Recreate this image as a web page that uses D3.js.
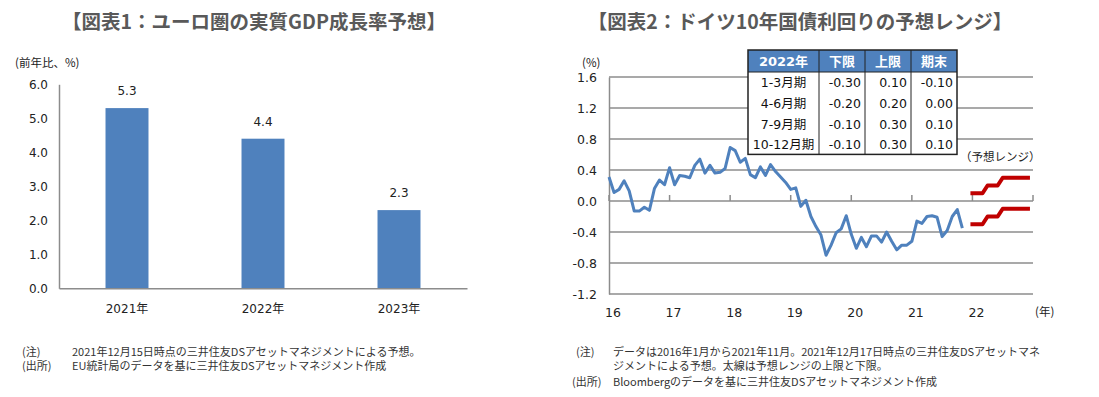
<!DOCTYPE html>
<html>
<head>
<meta charset="utf-8">
<script src="https://cdn.jsdelivr.net/npm/d3@7"></script>
<style>
  body { margin: 0; background: #fff; }
  text { font-family: "DejaVu Sans", "Noto Sans CJK JP", sans-serif; }
  .jp { font-family: "Noto Sans CJK JP", sans-serif; }
</style>
</head>
<body>
<script>
const width = 1099;
const height = 397;

// chart 1: euro area real GDP growth forecast
const gdpYears = ["2021年", "2022年", "2023年"];
const gdpGrowth = [5.3, 4.4, 2.3];
const gdpTicks = [0, 1, 2, 3, 4, 5, 6];

// chart 2: German 10y bund yield, monthly Jan 2016 - Nov 2021
const bundStart = 2016;
const bundYield = [
  0.31, 0.11, 0.15, 0.26, 0.13, -0.13, -0.13, -0.08, -0.12, 0.16, 0.27, 0.21,
  0.43, 0.21, 0.33, 0.32, 0.30, 0.46, 0.54, 0.36, 0.46, 0.36, 0.37, 0.42,
  0.69, 0.65, 0.50, 0.55, 0.34, 0.30, 0.44, 0.33, 0.47, 0.38, 0.31, 0.24,
  0.15, 0.17, -0.07, 0.01, -0.20, -0.33, -0.44, -0.70, -0.57, -0.41, -0.36, -0.19,
  -0.43, -0.61, -0.47, -0.59, -0.45, -0.45, -0.53, -0.40, -0.52, -0.63, -0.57, -0.57,
  -0.52, -0.26, -0.29, -0.20, -0.19, -0.21, -0.46, -0.38, -0.20, -0.11, -0.35
];
// forecast range, monthly for 2022
const rangeStart = 2022;
const rangeUpper = [0.1, 0.1, 0.1, 0.2, 0.2, 0.2, 0.3, 0.3, 0.3, 0.3, 0.3, 0.3];
const rangeLower = [-0.3, -0.3, -0.3, -0.2, -0.2, -0.2, -0.1, -0.1, -0.1, -0.1, -0.1, -0.1];
const bundYTicks = [-1.2, -0.8, -0.4, 0, 0.4, 0.8, 1.2, 1.6];
const bundXTicks = [2016, 2017, 2018, 2019, 2020, 2021, 2022, 2023];
const bundXLabels = ["16", "17", "18", "19", "20", "21", "22"];

// table
const tableHeader = ["2022年", "下限", "上限", "期末"];
const tablePeriods = ["1-3月期", "4-6月期", "7-9月期", "10-12月期"];
const tableLower = [-0.30, -0.20, -0.10, -0.10];
const tableUpper = [0.10, 0.20, 0.30, 0.30];
const tableEnd = [-0.10, 0.00, 0.10, 0.10];

const blue = "#4f81bd";
const red = "#c00000";
const axisGray = "#8c8c8c";
const titleGray = "#595959";

// plain hyphen for negatives, like the original
const locale = d3.formatLocale({decimal: ".", thousands: ",", grouping: [3], currency: ["", ""], minus: "-"});
const fmt1 = locale.format(".1f");
const fmt2 = locale.format(".2f");

const svg = d3.select("body")
    .append("svg")
    .attr("width", width)
    .attr("height", height);

// ---------- chart 1 ----------
const left = svg.append("g");

left.append("text")
    .attr("class", "jp")
    .attr("x", 254)
    .attr("y", 29)
    .attr("text-anchor", "middle")
    .attr("font-size", 19.5)
    .attr("font-weight", "bold")
    .attr("fill", titleGray)
    .text("【図表1：ユーロ圏の実質GDP成長率予想】");

left.append("text")
    .attr("class", "jp")
    .attr("x", 15)
    .attr("y", 67)
    .attr("font-size", 11.5)
    .attr("fill", "#222")
    .text("(前年比、%)");

const gx = d3.scaleBand()
    .domain(gdpYears)
    .range([59, 467]);

const gy = d3.scaleLinear()
    .domain([0, 6])
    .range([288.3, 84.3]);

left.append("g")
    .attr("transform", "translate(59,0)")
    .call(d3.axisLeft(gy).tickValues(gdpTicks).tickFormat(fmt1).tickSize(0).tickPadding(11))
    .call(g => g.select(".domain").attr("stroke", axisGray).attr("stroke-width", 1.5))
    .call(g => g.selectAll("text").attr("font-size", 12).attr("fill", "#222"));

const barW = gx.bandwidth() * 0.316;

left.selectAll(".bar")
    .data(gdpGrowth)
    .enter()
    .append("rect")
    .attr("class", "bar")
    .attr("x", (d, i) => gx(gdpYears[i]) + gx.bandwidth() / 2 - barW / 2)
    .attr("y", d => gy(d))
    .attr("width", barW)
    .attr("height", d => gy(0) - gy(d))
    .attr("fill", blue);

left.selectAll(".barlabel")
    .data(gdpGrowth)
    .enter()
    .append("text")
    .attr("class", "barlabel")
    .attr("x", (d, i) => gx(gdpYears[i]) + gx.bandwidth() / 2)
    .attr("y", d => gy(d) - 13)
    .attr("text-anchor", "middle")
    .attr("font-size", 12)
    .attr("fill", "#222")
    .text(d => fmt1(d));

left.append("g")
    .attr("transform", `translate(0,${gy(0)})`)
    .call(d3.axisBottom(gx).tickSize(0).tickPadding(16))
    .call(g => g.select(".domain").attr("stroke", axisGray).attr("stroke-width", 1.5))
    .call(g => g.selectAll("text").attr("font-size", 12).attr("fill", "#222"));

// ---------- chart 2 ----------
const right = svg.append("g");

right.append("text")
    .attr("class", "jp")
    .attr("x", 800)
    .attr("y", 29)
    .attr("text-anchor", "middle")
    .attr("font-size", 19.5)
    .attr("font-weight", "bold")
    .attr("fill", titleGray)
    .text("【図表2：ドイツ10年国債利回りの予想レンジ】");

right.append("text")
    .attr("class", "jp")
    .attr("x", 582)
    .attr("y", 67)
    .attr("font-size", 11.5)
    .attr("fill", "#222")
    .text("(%)");

const bx = d3.scaleLinear()
    .domain([2016, 2023])
    .range([609, 1033]);

const by = d3.scaleLinear()
    .domain([-1.2, 1.6])
    .range([294, 77]);

//gridlines
right.selectAll(".grid")
    .data(bundYTicks)
    .enter()
    .append("line")
    .attr("class", "grid")
    .attr("x1", bx(2016))
    .attr("x2", bx(2023))
    .attr("y1", d => by(d))
    .attr("y2", d => by(d))
    .attr("stroke", axisGray)
    .attr("stroke-width", 1.5);

right.append("g")
    .attr("transform", `translate(${bx(2016)},0)`)
    .call(d3.axisLeft(by).tickValues(bundYTicks).tickFormat(fmt1).tickSize(0).tickPadding(12))
    .call(g => g.select(".domain").attr("stroke", axisGray).attr("stroke-width", 1.5))
    .call(g => g.selectAll("text").attr("font-size", 12.5).attr("fill", "#222"));

//year ticks on the zero line
right.selectAll(".xtick")
    .data(bundXTicks)
    .enter()
    .append("line")
    .attr("class", "xtick")
    .attr("x1", d => bx(d))
    .attr("x2", d => bx(d))
    .attr("y1", by(0) - 6)
    .attr("y2", by(0))
    .attr("stroke", axisGray)
    .attr("stroke-width", 1.5);

right.selectAll(".xlabel")
    .data(bundXLabels)
    .enter()
    .append("text")
    .attr("class", "xlabel")
    .attr("x", (d, i) => bx(bundXTicks[i]) + 4)
    .attr("y", 317)
    .attr("text-anchor", "middle")
    .attr("font-size", 12.5)
    .attr("fill", "#222")
    .text(d => d);

right.append("text")
    .attr("class", "jp")
    .attr("x", 1035)
    .attr("y", 316)
    .attr("font-size", 11.5)
    .attr("fill", "#222")
    .text("(年)");

const line = d3.line()
    .x(d => bx(d.t))
    .y(d => by(d.v));

right.append("path")
    .datum(bundYield.map((v, i) => ({t: bundStart + i / 12, v})))
    .attr("d", line)
    .attr("fill", "none")
    .attr("stroke", blue)
    .attr("stroke-width", 3)
    .attr("stroke-linejoin", "round");

[rangeUpper, rangeLower].forEach(series => {
  right.append("path")
      .datum(series.map((v, i) => ({t: rangeStart + i / 12, v})))
      .attr("d", line)
      .attr("fill", "none")
      .attr("stroke", red)
      .attr("stroke-width", 4)
      .attr("stroke-linecap", "square")
      .attr("stroke-linejoin", "round");
});

right.append("text")
    .attr("class", "jp")
    .attr("x", 960)
    .attr("y", 161)
    .attr("font-size", 11.5)
    .attr("fill", "#222")
    .text("（予想レンジ）");

//table
const tX = 748, tY = 50;
const colW = [71, 46, 46, 46];
const headH = 22, rowH = 20.6;
const colX = colW.map((w, i) => tX + d3.sum(colW.slice(0, i)));
const tW = d3.sum(colW);
const tH = headH + rowH * tablePeriods.length;

const table = right.append("g");

table.append("rect")
    .attr("x", tX).attr("y", tY)
    .attr("width", tW).attr("height", tH)
    .attr("fill", "white");

table.append("rect")
    .attr("x", tX).attr("y", tY)
    .attr("width", tW).attr("height", headH)
    .attr("fill", blue);

table.selectAll(".head")
    .data(tableHeader)
    .enter()
    .append("text")
    .attr("class", "head")
    .attr("x", (d, i) => colX[i] + colW[i] / 2)
    .attr("y", tY + headH / 2 + 5)
    .attr("text-anchor", "middle")
    .attr("font-size", 13)
    .attr("font-weight", "bold")
    .attr("fill", "white")
    .text(d => d);

tablePeriods.forEach((p, r) => {
  const y = tY + headH + rowH * r + rowH / 2 + 5;
  table.append("text")
      .attr("x", colX[0] + colW[0] / 2)
      .attr("y", y)
      .attr("text-anchor", "middle")
      .attr("font-size", 12.5)
      .attr("fill", "#111")
      .text(p);
  [tableLower[r], tableUpper[r], tableEnd[r]].forEach((v, c) => {
    table.append("text")
        .attr("x", colX[c + 1] + colW[c + 1] - 4)
        .attr("y", y)
        .attr("text-anchor", "end")
        .attr("font-size", 12.5)
        .attr("fill", "#111")
        .text(fmt2(v));
  });
});

table.selectAll(".col")
    .data(colX.slice(1))
    .enter()
    .append("line")
    .attr("x1", d => d).attr("x2", d => d)
    .attr("y1", tY).attr("y2", tY + tH)
    .attr("stroke", "#222")
    .attr("stroke-width", 1);

table.append("line")
    .attr("x1", tX).attr("x2", tX + tW)
    .attr("y1", tY + headH).attr("y2", tY + headH)
    .attr("stroke", "#222")
    .attr("stroke-width", 1);

table.append("rect")
    .attr("x", tX).attr("y", tY)
    .attr("width", tW).attr("height", tH)
    .attr("fill", "none")
    .attr("stroke", "#222")
    .attr("stroke-width", 1.5);

// ---------- notes ----------
const notes = [
  {x: 22, y: 356, t: "(注)"},
  {x: 72, y: 356, t: "2021年12月15日時点の三井住友DSアセットマネジメントによる予想。"},
  {x: 22, y: 370, t: "(出所)"},
  {x: 72, y: 370, t: "EU統計局のデータを基に三井住友DSアセットマネジメント作成"},
  {x: 576, y: 356, t: "(注)"},
  {x: 613, y: 356, t: "データは2016年1月から2021年11月。2021年12月17日時点の三井住友DSアセットマネ"},
  {x: 613, y: 370, t: "ジメントによる予想。太線は予想レンジの上限と下限。"},
  {x: 572, y: 386, t: "(出所)"},
  {x: 613, y: 386, t: "Bloombergのデータを基に三井住友DSアセットマネジメント作成"}
];

svg.selectAll(".note")
    .data(notes)
    .enter()
    .append("text")
    .attr("class", "note jp")
    .attr("x", d => d.x)
    .attr("y", d => d.y)
    .attr("font-size", 11)
    .attr("fill", "#333")
    .text(d => d.t);
</script>
</body>
</html>
